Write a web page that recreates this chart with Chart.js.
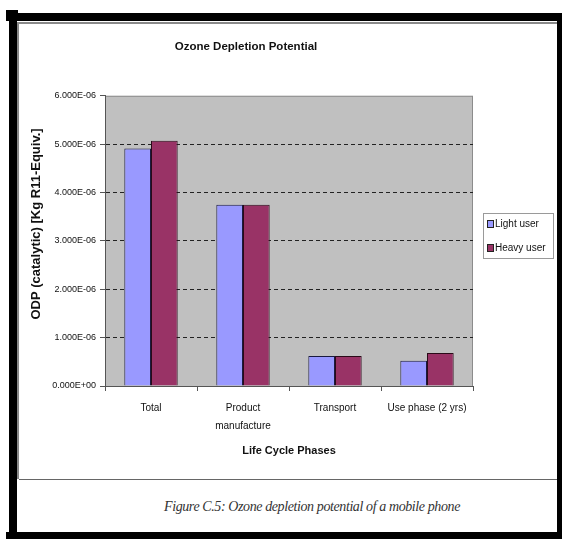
<!DOCTYPE html>
<html>
<head>
<meta charset="utf-8">
<script src="https://cdn.jsdelivr.net/npm/chart.js@4"></script>
<style>
  body { margin: 0; background: #fff; width: 562px; height: 539px; position: relative; overflow: hidden; }
  .bar { position: absolute; background: #000; }
  .gline { position: absolute; background: #8a8a8a; }
  #wrap { position: absolute; left: 19px; top: 24px; width: 538px; height: 455px; }
  #caption { position: absolute; left: 162px; width: 300px; top: 499px; text-align: center;
    font: italic 14px "Liberation Serif", serif; letter-spacing: -0.4px; color: #333; white-space: nowrap; }
</style>
</head>
<body>
<div class="bar" style="left:6px;top:13px;width:556px;height:8px"></div>
<div class="bar" style="left:6px;top:10px;width:12px;height:8px"></div>
<div class="bar" style="left:9px;top:10px;width:8px;height:529px"></div>
<div class="bar" style="left:557px;top:13px;width:5px;height:526px"></div>
<div class="bar" style="left:6px;top:532px;width:556px;height:7px"></div>
<div class="gline" style="left:17px;top:22px;width:540px;height:2px"></div>
<div class="gline" style="left:17px;top:22px;width:2px;height:457px"></div>
<div class="gline" style="left:19px;top:479px;width:538px;height:1px;background:#666"></div>
<div id="wrap"><canvas id="chart" width="538" height="455"></canvas></div>
<div id="caption">Figure C.5: Ozone depletion potential of a mobile phone</div>
<script>
const phases = [["Total"], ["Product", "manufacture"], ["Transport"], ["Use phase (2 yrs)"]];
const lightUser = [4.91e-6, 3.75e-6, 0.62e-6, 0.52e-6];
const heavyUser = [5.07e-6, 3.75e-6, 0.62e-6, 0.68e-6];
const yTicks = [0, 1e-6, 2e-6, 3e-6, 4e-6, 5e-6, 6e-6];
const yTitle = "ODP (catalytic) [Kg R11-Equiv.]";

const font = "'Liberation Sans', Arial, sans-serif";

// grey plot area with border, like the old Excel look
const plotBg = {
  id: "plotBg",
  beforeDraw(chart) {
    const { ctx, chartArea: a } = chart;
    ctx.save();
    ctx.fillStyle = "#c0c0c0";
    ctx.fillRect(a.left, a.top, a.right - a.left, a.bottom - a.top);
    ctx.strokeStyle = "#8c8c8c";
    ctx.lineWidth = 1;
    ctx.strokeRect(a.left + 0.5, a.top + 0.5, a.right - a.left - 1, a.bottom - a.top);
    ctx.restore();
  }
};

// y title sits a bit above the plot centre in the original
const yTitlePlugin = {
  id: "yTitlePlugin",
  afterDraw(chart) {
    const { ctx } = chart;
    ctx.save();
    ctx.translate(17, 200);
    ctx.rotate(-Math.PI / 2);
    ctx.font = "bold 13px " + font;
    ctx.fillStyle = "#111";
    ctx.textAlign = "center";
    ctx.textBaseline = "middle";
    ctx.fillText(yTitle, 0, 0);
    ctx.restore();
  }
};

// boxed legend to the right of the plot
const boxLegend = {
  id: "boxLegend",
  afterDraw(chart) {
    const { ctx } = chart;
    const x = 464, y = 189, w = 70, h = 45;
    ctx.save();
    ctx.strokeStyle = "#9a9a9a";
    ctx.lineWidth = 1;
    ctx.strokeRect(x + 0.5, y + 0.5, w, h);
    ctx.font = "10px " + font;
    ctx.textBaseline = "middle";
    chart.data.datasets.forEach((ds, i) => {
      const cy = y + 11 + i * 24;
      ctx.fillStyle = ds.backgroundColor;
      ctx.fillRect(x + 4.5, cy - 3.5, 6, 7);
      ctx.strokeStyle = "#222";
      ctx.strokeRect(x + 4.5, cy - 3.5, 6, 7);
      ctx.fillStyle = "#111";
      ctx.fillText(ds.label, x + 12, cy);
    });
    ctx.restore();
  }
};

new Chart(document.getElementById("chart"), {
  type: "bar",
  data: {
    labels: phases,
    datasets: [
      { label: "Light user", data: lightUser, backgroundColor: "#9999ff", borderColor: "#1a1a40", borderWidth: 1 },
      { label: "Heavy user", data: heavyUser, backgroundColor: "#993366", borderColor: "#2a0a18", borderWidth: 1 }
    ]
  },
  options: {
    responsive: false,
    animation: false,
    layout: { padding: { left: 0, right: 84, top: 0, bottom: 0 } },
    datasets: { bar: { categoryPercentage: 0.58, barPercentage: 1 } },
    plugins: {
      legend: { display: false },
      tooltip: { enabled: false },
      title: {
        display: true,
        text: "Ozone Depletion Potential",
        color: "#111",
        font: { family: font, size: 11.5, weight: "bold", lineHeight: 1.2 },
        padding: { top: 16, bottom: 42 }
      }
    },
    scales: {
      x: {
        grid: { offset: true, drawOnChartArea: false, drawTicks: true, tickLength: 5, tickColor: "#555" },
        border: { color: "#555" },
        ticks: { color: "#111", maxRotation: 0, padding: 8, font: { family: font, size: 10, lineHeight: 1.8 } },
        title: {
          display: true, text: "Life Cycle Phases", color: "#111",
          font: { family: font, size: 11, weight: "bold", lineHeight: 1.2 },
          padding: { top: 0, bottom: 21 }
        },
        afterFit(scale) { scale.height = 93; }
      },
      y: {
        min: 0, max: 6e-6,
        afterBuildTicks(scale) { scale.ticks = yTicks.map(v => ({ value: v })); },
        grid: {
          color: ctx => (ctx.tick && (ctx.tick.value === 0 || ctx.tick.value === 6e-6)) ? "rgba(0,0,0,0)" : "#222",
          tickLength: 5,
          tickColor: "#555"
        },
        border: { color: "#555", dash: [4, 3] },
        ticks: {
          color: "#111", padding: 4,
          font: { family: font, size: 9 },
          callback: v => {
            const s = Number(v).toExponential(3).toUpperCase();
            const [m, e] = s.split("E");
            const n = parseInt(e, 10);
            return m + "E" + (n < 0 ? "-" : "+") + String(Math.abs(n)).padStart(2, "0");
          }
        },
        afterFit(scale) { scale.width = 86; }
      }
    }
  },
  plugins: [plotBg, yTitlePlugin, boxLegend]
});
</script>
</body>
</html>
